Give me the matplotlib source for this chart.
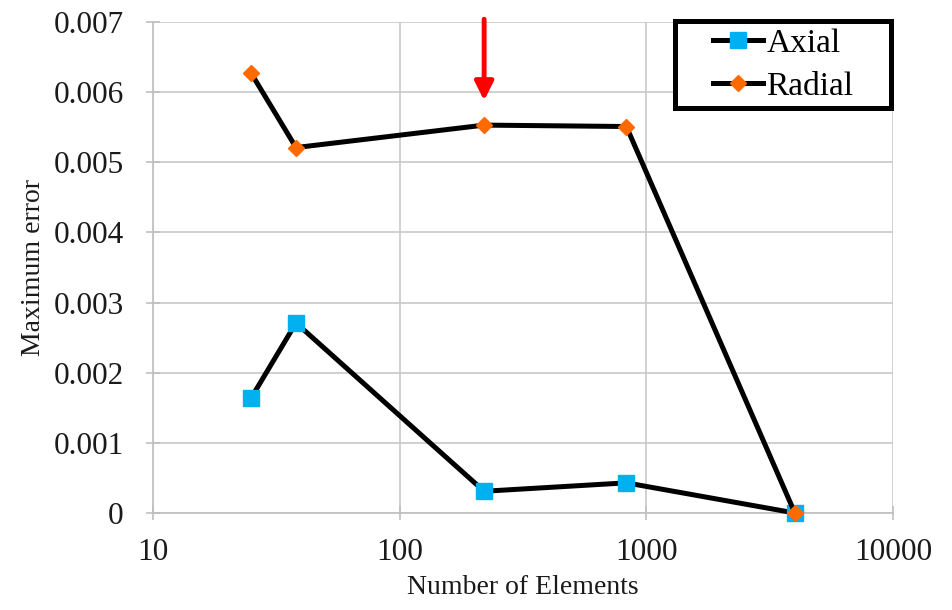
import matplotlib
matplotlib.use("Agg")
import matplotlib.pyplot as plt
from matplotlib.patches import Rectangle
from matplotlib.ticker import FixedLocator, FixedFormatter, NullLocator

plt.rcParams['font.family'] = ['Liberation Serif', 'DejaVu Serif']

elements = [25, 38, 220, 830, 4000]
axial = [0.00164, 0.00271, 0.00031, 0.00043, 0.0]
radial = [0.00627, 0.00521, 0.00553, 0.00551, 0.0]

x_ticks = [10, 100, 1000, 10000]
x_tick_labels = ["10", "100", "1000", "10000"]
y_ticks = [0, 0.001, 0.002, 0.003, 0.004, 0.005, 0.006, 0.007]
y_tick_labels = ["0", "0.001", "0.002", "0.003", "0.004", "0.005", "0.006", "0.007"]

W, H = 952, 610
fig = plt.figure(figsize=(W/100, H/100), dpi=100)
ax = fig.add_axes([153/W, 1-513/H, (893-153)/W, (513-22)/H])

ax.plot(elements, axial, color='black', lw=3.6, marker='s', ms=12,
        mfc='#00B0F0', mec='#00B0F0', label='Axial', clip_on=False, zorder=3)
ax.plot(elements, radial, color='black', lw=3.6, marker='D', ms=8,
        mfc='#FF6A00', mec='#FF6A00', label='Radial', clip_on=False, zorder=4)

ax.set_xscale('log')
ax.set_xlim(10, 10000)
ax.set_ylim(0, 0.007)
ax.xaxis.set_major_locator(FixedLocator(x_ticks))
ax.xaxis.set_major_formatter(FixedFormatter(x_tick_labels))
ax.xaxis.set_minor_locator(NullLocator())
ax.yaxis.set_major_locator(FixedLocator(y_ticks))
ax.yaxis.set_major_formatter(FixedFormatter(y_tick_labels))

ax.grid(True, color='#C8C8C8', lw=1.2)
ax.set_axisbelow(True)
for s in ['top', 'right']:
    ax.spines[s].set_visible(False)
for s in ['left', 'bottom']:
    ax.spines[s].set_color('#BFBFBF')
    ax.spines[s].set_linewidth(1.2)
ax.tick_params(axis='both', which='major', direction='inout', length=10,
               color='#BFBFBF', width=1.2, labelsize=22.5, labelcolor='#1a1a1a')
ax.tick_params(axis='x', pad=13)
ax.tick_params(axis='y', pad=16)

ax.set_xlabel('Number of Elements', fontsize=20, color='#1a1a1a', labelpad=6)
ax.set_ylabel('Maximum error', fontsize=20, color='#1a1a1a', labelpad=5.5)

ax.annotate('', xy=(220, 0.00588), xytext=(220, 0.00704),
            arrowprops=dict(arrowstyle='-|>', color='#FF0000', lw=3.5,
                            mutation_scale=28, shrinkA=0, shrinkB=0),
            annotation_clip=False, zorder=5)

# legend frame (thick black box)
frame = Rectangle((675/W, 1-108/H), (891-675)/W, (108-21)/H,
                  transform=fig.transFigure, fill=True, facecolor='white',
                  edgecolor='black', lw=3.6, zorder=6, clip_on=False)
ax.add_artist(frame)
leg = ax.legend(loc='upper left', bbox_to_anchor=(713/W, 1-28/H),
                bbox_transform=fig.transFigure, fontsize=24, frameon=False,
                handlelength=1.5, handletextpad=0.1,
                borderpad=0.0, labelspacing=0.39, borderaxespad=0)
leg.set_zorder(7)

fig.savefig('out.png', dpi=100)
